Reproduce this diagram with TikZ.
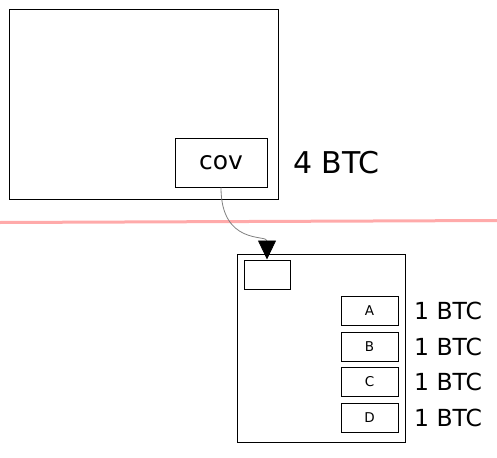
\documentclass[tikz,border=0pt]{standalone}
\usepackage{fontspec}
\setmainfont{DejaVu Sans}
\usetikzlibrary{arrows.meta}
\definecolor{cutred}{RGB}{255,170,170}
\tikzstyle{box} = [draw, line width=1pt, inner sep=0pt]
\tikzstyle{output} = [box, minimum width=57pt, minimum height=29pt, font=\fontsize{13.5}{13.5}\selectfont]
\tikzstyle{amount} = [anchor=west, inner sep=0pt, font=\fontsize{23.5}{23.5}\selectfont]

\begin{document}
\begin{tikzpicture}[x=1pt,y=-1pt]
      \useasboundingbox (0,0) rectangle (497,457);
      \node[box, minimum width=269pt, minimum height=189pt] (tx) at (143.5,104.5) {};
      \node[box, minimum width=92pt, minimum height=48pt, font=\fontsize{25}{25}\selectfont] (cov) at (221,163) {cov};
      \node[amount, font=\fontsize{30}{30}\selectfont] (total) at (293,163) {4 BTC};
      \draw[cutred, line width=3pt] (0,222.5) -- (497,220.5);
      \node[box, minimum width=168pt, minimum height=188pt] (spend) at (321,348) {};
      \node[box, minimum width=46pt, minimum height=29pt] (slot) at (267,274.5) {};
      \node[output] (a) at (369.5,310.5) {A};
      \node[output] (b) at (369.5,346.5) {B};
      \node[output] (c) at (369.5,381.5) {C};
      \node[output] (d) at (369.5,417.5) {D};
      \node[amount] (ka) at (414,310.5) {1 BTC};
      \node[amount] (kb) at (414,346.5) {1 BTC};
      \node[amount] (kc) at (414,381.5) {1 BTC};
      \node[amount] (kd) at (414,417.5) {1 BTC};
      \draw[gray, line width=0.8pt, -{Triangle[length=19pt,width=18pt,black]}] (cov.south) .. controls +(0,58) and +(0,-25) .. (slot.north);
    \end{tikzpicture}
\end{document}
